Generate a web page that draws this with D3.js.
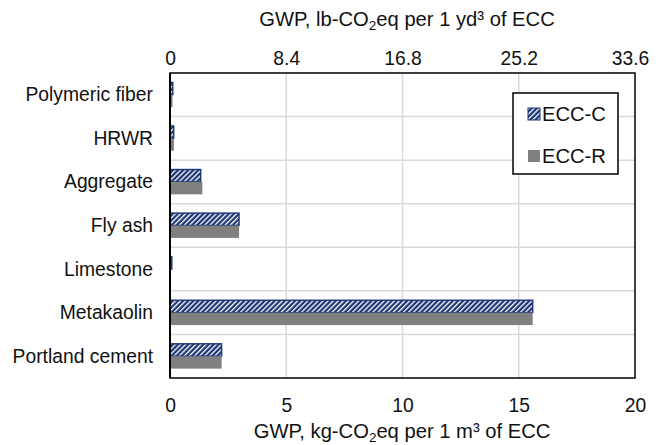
<!DOCTYPE html>
<html>
<head>
<meta charset="utf-8">
<script src="https://cdn.jsdelivr.net/npm/d3@7"></script>
<style>
  html, body { margin: 0; padding: 0; background: #fff; }
  svg { display: block; font-family: "Liberation Sans", Arial, sans-serif; }
</style>
</head>
<body>
<svg id="chart" width="666" height="445"></svg>
<script>
// Materials, listed top to bottom
const categories = ["Polymeric fiber", "HRWR", "Aggregate", "Fly ash", "Limestone", "Metakaolin", "Portland cement"];
const seriesNames = ["ECC-C", "ECC-R"];
// GWP contribution, kg-CO2eq per 1 m3 of ECC
const eccC = [0.12, 0.16, 1.32, 2.97, 0.08, 15.6, 2.22];
const eccR = [0.11, 0.17, 1.39, 2.97, 0.04, 15.6, 2.22];
const bottomTicks = [0, 5, 10, 15, 20];
const topTicks = [0, 8.4, 16.8, 25.2, 33.6];

const W = 666, H = 445;
const margin = { top: 73, right: 31, bottom: 67, left: 170 };
const iw = W - margin.left - margin.right;
const ih = H - margin.top - margin.bottom;
const NAVY = "#1c3674";
const INK = "#111";

const svg = d3.select("#chart");

// Hatch fill for ECC-C bars
const defs = svg.append("defs");
const pat = defs.append("pattern")
  .attr("id", "hatch")
  .attr("patternUnits", "userSpaceOnUse")
  .attr("width", 3.6).attr("height", 3.6)
  .attr("patternTransform", "rotate(45)");
pat.append("rect").attr("width", 3.6).attr("height", 3.6).attr("fill", NAVY);
pat.append("rect").attr("x", 0).attr("y", 0).attr("width", 1.3).attr("height", 3.6).attr("fill", "#ffffff");

const g = svg.append("g").attr("transform", `translate(${margin.left},${margin.top})`);

const x = d3.scaleLinear().domain([0, 20]).range([0, iw]);
const xTop = d3.scaleLinear().domain([0, 33.6]).range([0, iw]);
const y = d3.scaleBand().domain(categories).range([0, ih]).paddingInner(0.43).paddingOuter(0.215);
const ySub = d3.scaleBand().domain(seriesNames).range([0, y.bandwidth()]);

// Gridlines
g.append("g").selectAll("line.vg")
  .data(bottomTicks.slice(1, -1))
  .join("line")
  .attr("x1", d => x(d)).attr("x2", d => x(d))
  .attr("y1", 0).attr("y2", ih)
  .attr("stroke", "#d9d9d9").attr("stroke-width", 1.5);

const step = y.step();
g.append("g").selectAll("line.hg")
  .data(categories.slice(1))
  .join("line")
  .attr("x1", 0).attr("x2", iw)
  .attr("y1", d => y(d) - y.paddingInner() * step / 2)
  .attr("y2", d => y(d) - y.paddingInner() * step / 2)
  .attr("stroke", "#d9d9d9").attr("stroke-width", 1.5);

// Bars
const rows = categories.map((c, i) => ({ cat: c, values: [
  { key: "ECC-C", v: eccC[i] },
  { key: "ECC-R", v: eccR[i] }
]}));

const groups = g.append("g").selectAll("g.row")
  .data(rows)
  .join("g")
  .attr("transform", d => `translate(0,${y(d.cat)})`);

groups.selectAll("rect")
  .data(d => d.values)
  .join("rect")
  .attr("x", 0)
  .attr("y", d => ySub(d.key))
  .attr("width", d => x(d.v))
  .attr("height", ySub.bandwidth())
  .attr("fill", d => d.key === "ECC-C" ? "url(#hatch)" : "#808080")
  .attr("stroke", d => d.key === "ECC-C" ? NAVY : "none")
  .attr("stroke-width", 1.4);

// Plot border
g.append("rect")
  .attr("x", 0).attr("y", 0).attr("width", iw).attr("height", ih)
  .attr("fill", "none").attr("stroke", "#000").attr("stroke-width", 1.5);
g.append("line")
  .attr("x1", 0).attr("x2", 0).attr("y1", 0).attr("y2", ih)
  .attr("stroke", "#000").attr("stroke-width", 2);

// Axes
const axB = g.append("g")
  .attr("transform", `translate(0,${ih})`)
  .call(d3.axisBottom(x).tickValues(bottomTicks).tickSize(0).tickPadding(20).tickFormat(d3.format("d")));
const axT = g.append("g")
  .call(d3.axisTop(xTop).tickValues(topTicks).tickSize(0).tickPadding(8).tickFormat(d => d === 0 ? "0" : d3.format(".1f")(d)));
const axL = g.append("g")
  .call(d3.axisLeft(y).tickSize(0).tickPadding(17));

[axB, axT, axL].forEach(a => {
  a.select(".domain").remove();
  a.selectAll("text")
    .attr("font-family", "'Liberation Sans', Arial, sans-serif")
    .attr("font-size", 19.3)
    .attr("fill", INK);
});
axL.selectAll("text").attr("dy", "0.34em");
axT.selectAll(".tick").filter(d => d === 33.6).select("text").attr("dx", -5);

// Axis titles
function title(sel, xPos, yPos, unitPre, unitPost) {
  const t = sel.append("text")
    .attr("x", xPos).attr("y", yPos)
    .attr("text-anchor", "middle")
    .attr("font-size", 20.2)
    .attr("fill", INK);
  t.append("tspan").text(unitPre);
  t.append("tspan").attr("font-size", 13.5).attr("dy", 4).text("2");
  t.append("tspan").attr("dy", -4).text(unitPost);
}
title(svg, 407, 26, "GWP, lb-CO", "eq per 1 yd³ of ECC");
title(svg, 402, 438, "GWP, kg-CO", "eq per 1 m³ of ECC");

// Legend
const lg = svg.append("g");
lg.append("rect")
  .attr("x", 513).attr("y", 93).attr("width", 105).attr("height", 81)
  .attr("fill", "#fff").attr("stroke", "#000").attr("stroke-width", 1.5);
const legendItems = [
  { key: "ECC-C", fill: "url(#hatch)", stroke: NAVY, y: 108 },
  { key: "ECC-R", fill: "#808080", stroke: "none", y: 150 }
];
const li = lg.selectAll("g.item").data(legendItems).join("g");
li.append("rect")
  .attr("x", 528).attr("y", d => d.y).attr("width", 12).attr("height", 12)
  .attr("fill", d => d.fill).attr("stroke", d => d.stroke).attr("stroke-width", 1);
li.append("text")
  .attr("x", 542).attr("y", d => d.y + 13)
  .attr("font-size", 20.2)
  .attr("fill", INK)
  .text(d => d.key);
</script>
</body>
</html>
